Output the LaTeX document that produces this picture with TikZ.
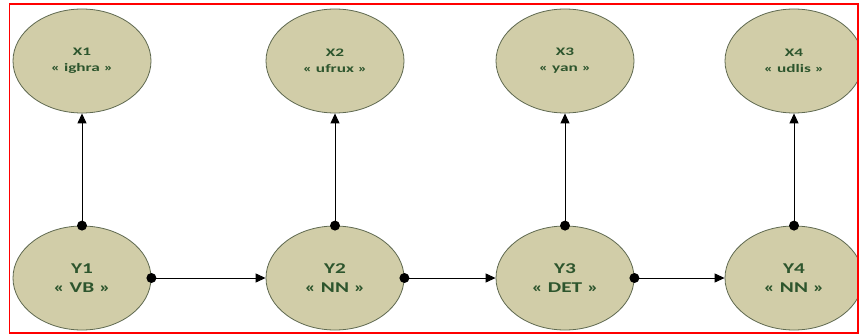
\documentclass[tikz,border=0pt]{standalone}
\usepackage{fontspec}
\setmainfont{Carlito}
\newfontfamily\xfont[FakeStretch=1.5]{Carlito}
\newfontfamily\yfont[FakeStretch=1.42]{Carlito}
\usetikzlibrary{arrows.meta,shapes.geometric}
\definecolor{nodefill}{RGB}{209,205,168}
\definecolor{nodeedge}{RGB}{95,105,80}
\definecolor{txtgreen}{RGB}{45,85,45}
\tikzset{
  state/.style={ellipse, draw=nodeedge, line width=0.8pt, fill=nodefill,
    minimum width=138pt, minimum height=104pt, inner sep=0pt,
    text=txtgreen, align=center},
  obs/.style={state, font=\xfont\bfseries\fontsize{11.5}{16}\selectfont},
  hid/.style={state, font=\yfont\bfseries\fontsize{15}{19}\selectfont},
  link/.style={line width=1pt, -{Triangle[length=10pt,width=9pt]}},
  dot/.style={fill=black}
}
\begin{document}
\begin{tikzpicture}[x=1pt,y=-1pt]
\useasboundingbox (0,0) rectangle (859,334);
\fill[white] (0,0) rectangle (859,334);
\node[obs] (X1) at (82,61) {X1\\« ighra »};
\node[obs] (X2) at (335,61) {X2\\« ufrux »};
\node[obs] (X3) at (565,61) {X3\\« yan »};
\node[obs] (X4) at (794,61) {X4\\« udlis »};
\node[hid] (Y1) at (82,278) {Y1\\« VB »};
\node[hid] (Y2) at (335,278) {Y2\\« NN »};
\node[hid] (Y3) at (565,278) {Y3\\« DET »};
\node[hid] (Y4) at (794,278) {Y4\\« NN »};
\foreach \i in {1,2,3,4}{
  \draw[link] (Y\i.north) -- (X\i.south);
  \fill[dot] (Y\i.north) circle (5pt);
}
\foreach \a/\b in {1/2,2/3,3/4}{
  \draw[link] (Y\a.east) -- (Y\b.west);
  \fill[dot] (Y\a.east) circle (5pt);
}
\draw[red, line width=1.3pt] (9.5,4) rectangle (858,333);
\end{tikzpicture}
\end{document}
